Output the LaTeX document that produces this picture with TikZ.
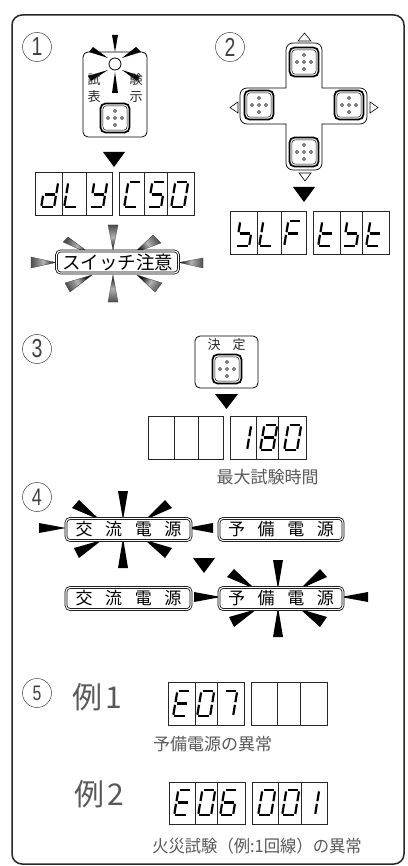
\documentclass[tikz,border=0pt]{standalone}
\usepackage{fontspec}
\setmainfont{Noto Sans CJK JP}
\newfontfamily\latinlight{Liberation Sans}
\usetikzlibrary{calc}
\tikzset{
  frameline/.style={line width=1.5pt,draw=black!85},
  panel/.style={line width=.8pt,draw=black,rounded corners=5pt},
  disp/.style={line width=.9pt,draw=black!85},
  segline/.style={line width=2.2pt,draw=black},
  pointer/.style={fill=black,draw=none},
  outlinetri/.style={draw=black,line width=.6pt,fill=white},
  blackray/.style={fill=black,draw=none},
  lamp/.style={draw=black,line width=.8pt,fill=white,circle,minimum size=12pt,inner sep=0pt},
  numcircle/.style={draw=black!75,line width=.5pt,circle,minimum size=29pt,inner sep=0pt,text=black!75},
  labelbox/.style={draw=black,double=white,double distance=1.1pt,line width=.75pt,rounded corners=4pt,fill=white,inner sep=0pt,outer sep=0pt,minimum height=22pt},
  capt/.style={text=black!65,font=\fontsize{17}{17}\selectfont,inner sep=0pt},
  panellabel/.style={text=black!85,font=\fontsize{13}{13}\selectfont,inner sep=0pt},
  bigtext/.style={text=black!65,font=\fontsize{30}{30}\selectfont,inner sep=0pt},
}
% seven segment pieces (origin = lower left)
\def\dga{\draw[segline] (5.5,-25)--(16,-25);}
\def\dgb{\draw[segline] (17,-23.6)--(15.4,-13.8);}
\def\dgc{\draw[segline] (14.9,-11.2)--(13.3,-1.2);}
\def\dgd{\draw[segline] (1.4,0)--(11.9,0);}
\def\dge{\draw[segline] (2,-11.2)--(.4,-1.2);}
\def\dgf{\draw[segline] (4.1,-23.6)--(2.5,-13.8);}
\def\dgg{\draw[segline] (3.6,-12.5)--(13.8,-12.5);}
\newcommand\sevenseg[3]{\begin{scope}[shift={(#1,#2)}]\foreach \s in {#3}{\csname dg\s\endcsname}\end{scope}}
\newcommand\dispbox[6]{\draw[disp] (#1,#5) rectangle (#4,#6) (#2,#5)--(#2,#6) (#3,#5)--(#3,#6);}
\newcommand\pushbtn[3]{%
  \node[draw=black,line width=1.7pt,rounded corners=5pt,minimum size=29pt,inner sep=0pt,fill=white] (#1) at (#2,#3) {};
  \draw[line width=.5pt,rounded corners=3.5pt] ($(#1)+(-12.2,-12.2)$) rectangle ($(#1)+(12.2,12.2)$);
  \foreach \dx/\dy in {0/0,7/0,-7/0,0/7,0/-7}{\draw[line width=.5pt,fill=white] ($(#1)+(\dx,\dy)$) circle (1.5pt);}
}
\newcommand\grayray[4]{\shadedraw[draw=black!80,line width=.25pt,bottom color=black,top color=black!70,middle color=black!30,shading angle=#4] #1--#2--#3--cycle;}
\newcommand\blackflare{%
  \fill[blackray] (123,520)--(118,491)--(128,491)--cycle;
  \fill[blackray] (123,538)--(118,568)--(128,568)--cycle;
  \fill[blackray] (66,528)--(39,523)--(39,533)--cycle;
  \fill[blackray] (186,528)--(213,523)--(213,533)--cycle;
  \fill[blackray] (100,520)--(72,508)--(79,500)--cycle;
  \fill[blackray] (102,540)--(74,548)--(79,558)--cycle;
  \fill[blackray] (145,520)--(165,500)--(172,508)--cycle;
  \fill[blackray] (145,540)--(165,558)--(172,548)--cycle;
}
\newcommand\kanjisp[4]{#1\hspace{12.6pt}#2\hspace{12.6pt}#3\hspace{12.6pt}#4}
\begin{document}
\begin{tikzpicture}[x=1pt,y=-1pt]
\useasboundingbox (0,0) rectangle (407,866);
\fill[white] (0,0) rectangle (407,866);
\draw[frameline,rounded corners=10pt] (12,15) rectangle (404,864);

% circled numbers
\node[numcircle,font=\latinlight\fontsize{26}{26}\selectfont] (n1) at (37,47) {\scalebox{.75}[1]{1}};
\node[numcircle,font=\latinlight\fontsize{26}{26}\selectfont] (n2) at (230,47) {\scalebox{.75}[1]{2}};
\node[numcircle,font=\latinlight\fontsize{26}{26}\selectfont] (n3) at (37,349) {\scalebox{.75}[1]{3}};
\node[numcircle,font=\latinlight\fontsize{24}{24}\selectfont] (n4) at (37,497) {\scalebox{.75}[1]{4}};
\node[numcircle,font=\latinlight\fontsize{21}{21}\selectfont] (n5) at (37,693) {\scalebox{.75}[1]{5}};

% section 1 panel
\draw[panel] (83,52) rectangle (147,137);
\fill[blackray] (115,52)--(112,35)--(118,35)--cycle;
\fill[blackray] (115,72)--(112,93)--(118,93)--cycle;
\fill[blackray] (108,58)--(89,52)--(93,47)--cycle;
\fill[blackray] (122,58)--(136,47)--(141,52)--cycle;
\fill[blackray] (108,70)--(88,76)--(91,81)--cycle;
\fill[blackray] (122,70)--(140,76)--(137,81)--cycle;
\node[lamp] (led) at (115,64) {};
\node[panellabel] (t1) at (94,80) {試};
\node[panellabel] (t2) at (136,80) {験};
\node[panellabel] (t3) at (94,97) {表};
\node[panellabel] (t4) at (136,97) {示};
\pushbtn{b1}{115}{118}
\fill[pointer] (103,152)--(125,152)--(114,167)--cycle;

% section 1 displays
\dispbox{35}{62}{86}{112}{172}{215}
\sevenseg{41}{207}{b,c,d,e,g}
\sevenseg{64}{207}{d,e,f}
\sevenseg{90}{207}{b,c,d,f,g}
\dispbox{119}{144}{167}{194}{172}{215}
\sevenseg{124}{207}{a,d,e,f}
\sevenseg{148}{207}{a,f,g,c,d}
\sevenseg{171}{207}{a,b,c,d,e,f}

% switch caution flare
\grayray{(113,250)}{(108,225)}{(118,225)}{0}
\grayray{(113,275)}{(108,302)}{(118,302)}{180}
\grayray{(56,262.5)}{(31,257)}{(31,268)}{90}
\grayray{(179,262.5)}{(203,258)}{(203,268)}{-90}
\grayray{(92,255)}{(63,242)}{(68,237)}{62}
\grayray{(92,275)}{(65,283)}{(70,292)}{118}
\grayray{(134,253)}{(153,235)}{(161,243)}{-58}
\grayray{(137,275)}{(155,292)}{(162,283)}{-122}
\node[labelbox,minimum width=122pt,font=\fontsize{18.5}{18.5}\selectfont] (sw) at (117.5,262) {スイッチ注意};

% section 2 cross
\draw[line width=.7pt] (286,60) [rounded corners=7pt] --(286,43)--(322,43)[sharp corners]--(322,88)[rounded corners=7pt]--(367,88)--(367,124)[sharp corners]--(322,124)[rounded corners=7pt]--(322,170)--(286,170)[sharp corners]--(286,124)[rounded corners=7pt]--(240,124)--(240,88)[sharp corners]--(286,88)--cycle;
\pushbtn{b2}{304}{62}
\pushbtn{b3}{259}{105}
\pushbtn{b4}{349}{105}
\pushbtn{b5}{304}{152}
\draw[outlinetri] (298,41)--(311,41)--(304.5,33)--cycle;
\draw[outlinetri] (299,173)--(311,173)--(305,181)--cycle;
\draw[outlinetri] (238,102)--(238,113)--(230,107.5)--cycle;
\draw[outlinetri] (370,102)--(370,113)--(378,107.5)--cycle;
\fill[pointer] (293,187)--(315,187)--(304,202)--cycle;

% section 2 displays
\dispbox{230}{257}{281}{306}{211}{254}
\sevenseg{236}{246}{f,g,c,d}
\sevenseg{259}{246}{d,e,f}
\sevenseg{284}{246}{a,e,f,g}
\dispbox{313}{340}{362}{389}{211}{254}
\sevenseg{318}{246}{d,e,f,g}
\sevenseg{343}{246}{f,g,c,d}
\sevenseg{366}{246}{d,e,f,g}

% section 3
\draw[panel] (195,336) rectangle (258,388);
\node[panellabel] (k1) at (214,345) {決};
\node[panellabel] (k2) at (239,345) {定};
\pushbtn{b6}{227}{369}
\fill[pointer] (215,394)--(238,394)--(226.5,409)--cycle;
\dispbox{148}{174}{198}{223}{416}{459}
\dispbox{230}{256}{278}{306}{416}{459}
\sevenseg{234}{450}{b,c}
\sevenseg{260}{450}{a,b,c,d,e,f,g}
\sevenseg{284}{450}{a,b,c,d,e,f}
\node[capt] (c3) at (267.5,477) {最大試験時間};

% section 4
\blackflare
\begin{scope}[shift={(155,69)}]\blackflare\end{scope}
\fill[pointer] (193,558)--(215,558)--(204,573)--cycle;
\node[labelbox,minimum width=125pt,font=\fontsize{17}{17}\selectfont] (ac1) at (128.5,529.5) {\kanjisp{交}{流}{電}{源}};
\node[labelbox,minimum width=124pt,font=\fontsize{17}{17}\selectfont] (bk1) at (281,529.5) {\kanjisp{予}{備}{電}{源}};
\node[labelbox,minimum width=125pt,font=\fontsize{17}{17}\selectfont] (ac2) at (128.5,598.5) {\kanjisp{交}{流}{電}{源}};
\node[labelbox,minimum width=124pt,font=\fontsize{17}{17}\selectfont] (bk2) at (281,598.5) {\kanjisp{予}{備}{電}{源}};

% section 5
\node[bigtext] (ex1) at (97,697) {例\hspace{3pt}1};
\node[bigtext] (ex2) at (99,794) {例\hspace{3pt}2};
\dispbox{168}{195}{217}{244}{682}{725}
\sevenseg{173}{716}{a,d,e,f,g}
\sevenseg{197}{716}{a,b,c,d,e,f}
\sevenseg{220}{716}{a,b,c}
\dispbox{251}{277}{300}{327}{682}{725}
\node[capt] (c5a) at (212.5,744) {予備電源の異常};
\dispbox{169}{195}{217}{245}{782}{824}
\sevenseg{174}{815}{a,d,e,f,g}
\sevenseg{198}{815}{a,b,c,d,e,f}
\sevenseg{220}{815}{a,c,d,e,f,g}
\dispbox{252}{278}{301}{327}{782}{824}
\sevenseg{258}{815}{a,b,c,d,e,f}
\sevenseg{282}{815}{a,b,c,d,e,f}
\sevenseg{302}{815}{b,c}
\node[capt] (c5b) at (257,846) {\scalebox{.96}[1]{火災試験（例:1回線）の異常}};
\end{tikzpicture}
\end{document}
